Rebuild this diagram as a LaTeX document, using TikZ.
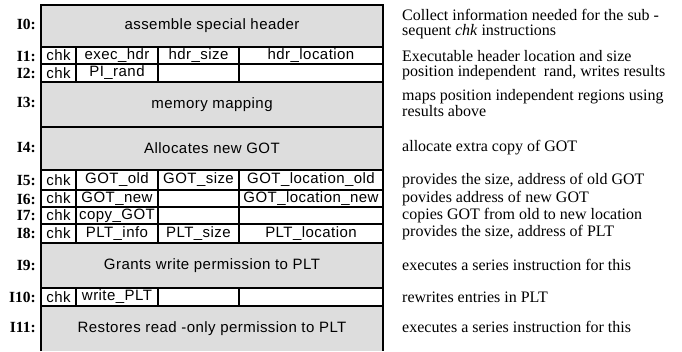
\documentclass[tikz,border=0pt]{standalone}
\usepackage{fontspec}
\setmainfont{Liberation Serif}
\setsansfont{Liberation Sans}
\newfontfamily\cellfont[LetterSpace=3]{Liberation Sans}
\definecolor{cellgray}{RGB}{221,221,221}
\begin{document}
\begin{tikzpicture}[x=1pt,y=-1pt,
  cell/.style={draw, line width=1.7pt, rectangle, inner sep=0pt, outer sep=0pt, anchor=north west, font=\cellfont\fontsize{15}{16}\selectfont},
  graycell/.style={cell, fill=cellgray, minimum width=342pt},
  wc1/.style={cell, minimum width=35pt},
  wc2/.style={cell, minimum width=82pt},
  wc3/.style={cell, minimum width=81pt},
  wc4/.style={cell, minimum width=144pt},
  lbl/.style={anchor=east, inner sep=0pt, font=\bfseries\fontsize{15.5}{16}\selectfont},
  desc/.style={anchor=west, align=left, inner sep=0pt, font=\fontsize{16}{15.5}\selectfont}]
\useasboundingbox (0,0) rectangle (682,351);

% I0
\node[graycell, minimum height=42pt] (r0) at (41,5) {assemble special header};
% I1
\node[wc1, minimum height=17pt] (r1a) at (41,47) {chk};
\node[wc2, minimum height=17pt] (r1b) at (76,47) {exec\_hdr};
\node[wc3, minimum height=17pt] (r1c) at (158,47) {hdr\_size};
\node[wc4, minimum height=17pt] (r1d) at (239,47) {hdr\_location};
% I2
\node[wc1, minimum height=18pt] (r2a) at (41,64) {chk};
\node[wc2, minimum height=18pt] (r2b) at (76,64) {PI\_rand};
\node[wc3, minimum height=18pt] (r2c) at (158,64) {};
\node[wc4, minimum height=18pt] (r2d) at (239,64) {};
% I3
\node[graycell, minimum height=45pt] (r3) at (41,82) {memory mapping};
% I4
\node[graycell, minimum height=43pt] (r4) at (41,127) {Allocates new GOT};
% I5
\node[wc1, minimum height=20pt] (r5a) at (41,170) {chk};
\node[wc2, minimum height=20pt] (r5b) at (76,170) {GOT\_old};
\node[wc3, minimum height=20pt] (r5c) at (158,170) {GOT\_size};
\node[wc4, minimum height=20pt] (r5d) at (239,170) {GOT\_location\_old};
% I6
\node[wc1, minimum height=17pt] (r6a) at (41,190) {chk};
\node[wc2, minimum height=17pt] (r6b) at (76,190) {GOT\_new};
\node[wc3, minimum height=17pt] (r6c) at (158,190) {};
\node[wc4, minimum height=17pt] (r6d) at (239,190) {GOT\_location\_new};
% I7
\node[wc1, minimum height=17pt] (r7a) at (41,207) {chk};
\node[wc2, minimum height=17pt] (r7b) at (76,207) {copy\_GOT};
\node[wc3, minimum height=17pt] (r7c) at (158,207) {};
\node[wc4, minimum height=17pt] (r7d) at (239,207) {};
% I8
\node[wc1, minimum height=19pt] (r8a) at (41,224) {chk};
\node[wc2, minimum height=19pt] (r8b) at (76,224) {PLT\_info};
\node[wc3, minimum height=19pt] (r8c) at (158,224) {PLT\_size};
\node[wc4, minimum height=19pt] (r8d) at (239,224) {PLT\_location};
% I9
\node[graycell, minimum height=45pt] (r9) at (41,243) {Grants write permission to PLT};
% I10
\node[wc1, minimum height=18pt] (r10a) at (41,288) {chk};
\node[wc2, minimum height=18pt] (r10b) at (76,288) {write\_PLT};
\node[wc3, minimum height=18pt] (r10c) at (158,288) {};
\node[wc4, minimum height=18pt] (r10d) at (239,288) {};
% I11 (open at the bottom)
\node[graycell, draw=none, minimum height=45pt] (r11) at (41,306) {Restores read -only permission to PLT};
\draw[line width=1.7pt] (r11.south west) -- (r11.north west) -- (r11.north east) -- (r11.south east);

% labels
\node[lbl] (l0) at (36,24) {I0:};
\node[lbl] (l1) at (36,56) {I1:};
\node[lbl] (l2) at (36,73) {I2:};
\node[lbl] (l3) at (36,102) {I3:};
\node[lbl] (l4) at (36,148) {I4:};
\node[lbl] (l5) at (36,181) {I5:};
\node[lbl] (l6) at (36,199) {I6:};
\node[lbl] (l7) at (36,216) {I7:};
\node[lbl] (l8) at (36,233) {I8:};
\node[lbl] (l9) at (36,265) {I9:};
\node[lbl] (l10) at (36,297) {I10:};
\node[lbl] (l11) at (36,327) {I11:};

% descriptions
\node[desc] (d0) at (402,24) {Collect information needed for the sub -\\sequent \textit{chk} instructions};
\node[desc] (d1) at (402,56) {Executable header location and size};
\node[desc] (d2) at (402,73) {position independent \ rand, writes results};
\node[desc] (d3) at (402,103) {maps position independent regions using\\results above};
\node[desc] (d4) at (402,148) {allocate extra copy of GOT};
\node[desc] (d5) at (402,181) {provides the size, address of old GOT};
\node[desc] (d6) at (402,199) {povides address of new GOT};
\node[desc] (d7) at (402,216) {copies GOT from old to new location};
\node[desc] (d8) at (402,233) {provides the size, address of PLT};
\node[desc] (d9) at (402,265) {executes a series instruction for this};
\node[desc] (d10) at (402,297) {rewrites entries in PLT};
\node[desc] (d11) at (402,327) {executes a series instruction for this};
\end{tikzpicture}
\end{document}
